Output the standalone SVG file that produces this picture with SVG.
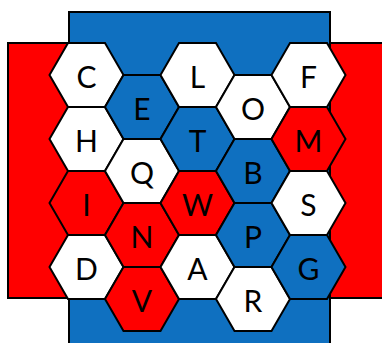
<svg xmlns="http://www.w3.org/2000/svg" xmlns:xlink="http://www.w3.org/1999/xlink" width="382" height="343" viewBox="0 0 382 343">
<style>
.w{fill:#FFFFFF}
.b{fill:#0F70C0}
.r{fill:#FF0000}
.hx{stroke:#000;stroke-width:2;stroke-linejoin:miter}
.edge{stroke:#000;stroke-width:2}
text{font-family:Lato,"Liberation Sans",sans-serif;font-size:30px;fill:#000;text-anchor:middle}
</style>
<defs>
<polygon id="hex" points="-37,0 -18.5,-32 18.5,-32 37,0 18.5,32 -18.5,32"/>
</defs>
<g id="borders">
<rect id="red-border" class="r edge" x="8" y="43" width="380" height="255"/>
<rect id="blue-border" class="b edge" x="69" y="12" width="261" height="340"/>
</g>
<g id="C" transform="translate(86.5,75)"><use href="#hex" class="w hx"/><text y="13">C</text></g>
<g id="H" transform="translate(86.5,139)"><use href="#hex" class="w hx"/><text y="13">H</text></g>
<g id="I" transform="translate(86.5,203)"><use href="#hex" class="r hx"/><text y="13">I</text></g>
<g id="D" transform="translate(86.5,267)"><use href="#hex" class="w hx"/><text y="13">D</text></g>
<g id="E" transform="translate(142,107)"><use href="#hex" class="b hx"/><text y="13">E</text></g>
<g id="Q" transform="translate(142,171)"><use href="#hex" class="w hx"/><text y="13">Q</text></g>
<g id="N" transform="translate(142,235)"><use href="#hex" class="r hx"/><text y="13">N</text></g>
<g id="V" transform="translate(142,299)"><use href="#hex" class="r hx"/><text y="13">V</text></g>
<g id="L" transform="translate(197.5,75)"><use href="#hex" class="w hx"/><text y="13">L</text></g>
<g id="T" transform="translate(197.5,139)"><use href="#hex" class="b hx"/><text y="13">T</text></g>
<g id="W" transform="translate(197.5,203)"><use href="#hex" class="r hx"/><text y="13">W</text></g>
<g id="A" transform="translate(197.5,267)"><use href="#hex" class="w hx"/><text y="13">A</text></g>
<g id="O" transform="translate(253,107)"><use href="#hex" class="w hx"/><text y="13">O</text></g>
<g id="B" transform="translate(253,171)"><use href="#hex" class="b hx"/><text y="13">B</text></g>
<g id="P" transform="translate(253,235)"><use href="#hex" class="b hx"/><text y="13">P</text></g>
<g id="R" transform="translate(253,299)"><use href="#hex" class="w hx"/><text y="13">R</text></g>
<g id="F" transform="translate(308.5,75)"><use href="#hex" class="w hx"/><text y="13">F</text></g>
<g id="M" transform="translate(308.5,139)"><use href="#hex" class="r hx"/><text y="13">M</text></g>
<g id="S" transform="translate(308.5,203)"><use href="#hex" class="w hx"/><text y="13">S</text></g>
<g id="G" transform="translate(308.5,267)"><use href="#hex" class="b hx"/><text y="13">G</text></g>
<g id="connectors"/>
</svg>
